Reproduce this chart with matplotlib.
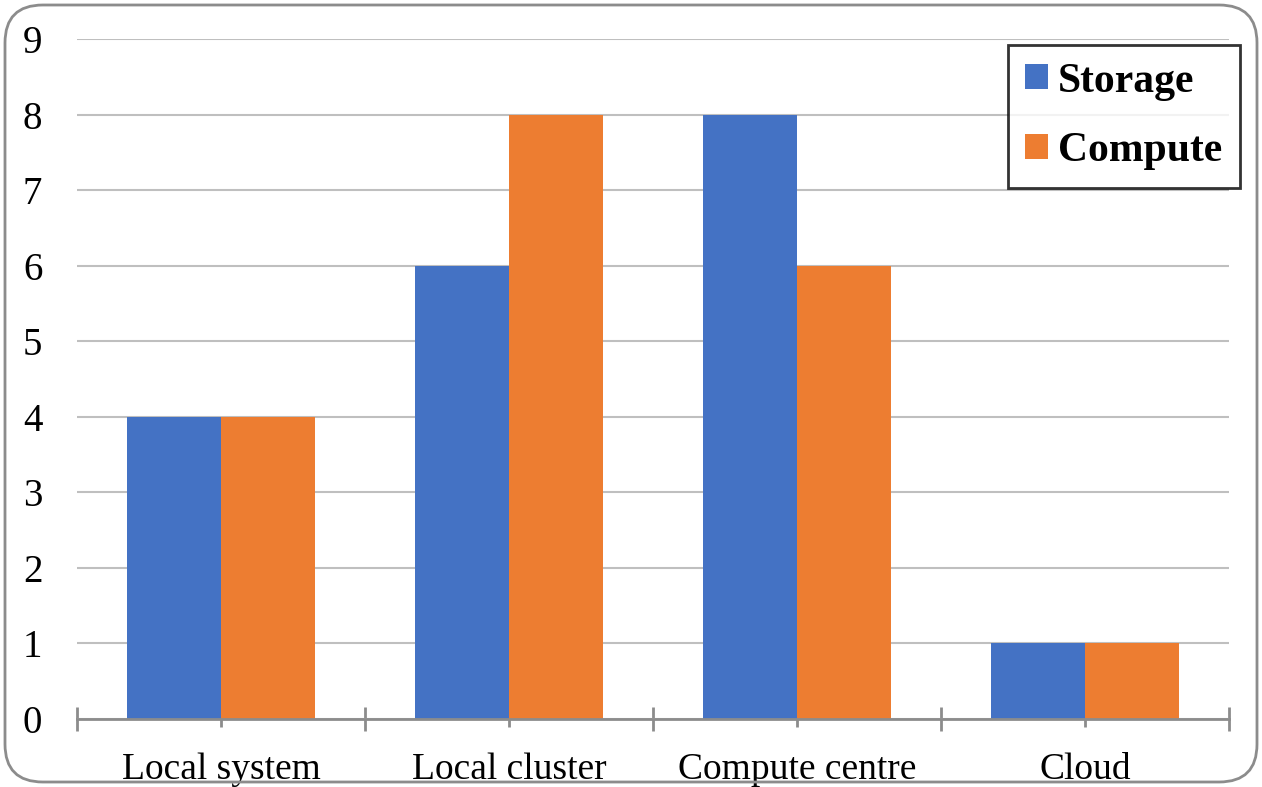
import matplotlib.pyplot as plt
import numpy as np
from matplotlib.patches import FancyBboxPatch

categories = ["Local system", "Local cluster", "Compute centre", "Cloud"]
storage = [4, 6, 8, 1]
compute = [4, 8, 6, 1]
series_names = ["Storage", "Compute"]
colors = ["#4472C4", "#ED7D31"]

W, H = 1262, 787
fig = plt.figure(figsize=(W / 100, H / 100), dpi=100)
ax = fig.add_axes([77 / W, 1 - 719 / H, (1229 - 77) / W, (719 - 39) / H])

x = np.arange(len(categories))
bw = 0.325
ax.bar(x - bw / 2, storage, bw, color=colors[0], label=series_names[0], zorder=2)
ax.bar(x + bw / 2, compute, bw, color=colors[1], label=series_names[1], zorder=2)

ax.set_xlim(-0.5, len(categories) - 0.5)
ax.set_ylim(0, 9)
ax.set_yticks(range(10))
ax.yaxis.grid(True, color="#BFBFBF", linewidth=1.5, zorder=0)
ax.set_axisbelow(True)

for s in ["left", "right", "top"]:
    ax.spines[s].set_visible(False)
ax.spines["bottom"].set_color("#8C8C8C")
ax.spines["bottom"].set_linewidth(2)
ax.spines["bottom"].set_zorder(3)

serif = ["Liberation Serif"]
ax.set_xticks(np.arange(-0.5, len(categories), 1.0))
ax.set_xticklabels([])
ax.tick_params(axis="x", which="major", direction="inout", length=17, width=2,
               color="#8C8C8C")
ax.set_xticks(x, minor=True)
ax.set_xticklabels(categories, minor=True, fontfamily=serif, fontsize=27)
ax.tick_params(axis="x", which="minor", direction="inout", length=12, width=2,
               color="#8C8C8C", pad=18)
for t in ax.xaxis.get_minor_ticks():
    t.tick1line.set_zorder(4)
ax.tick_params(axis="y", length=0, pad=25, labelsize=28)
for lab in ax.get_yticklabels():
    lab.set_fontfamily(serif)

leg = ax.legend(loc="upper right", bbox_to_anchor=((1240 - 77) / (1229 - 77), (719 - 45) / (719 - 39)),
                prop={"family": serif, "weight": "bold", "size": 30},
                frameon=True, fancybox=False, handlelength=0.55, handleheight=0.55,
                handletextpad=0.24, labelspacing=0.76, borderpad=0.42, borderaxespad=0)
leg.get_frame().set_edgecolor("black")
leg.get_frame().set_linewidth(2)

border = FancyBboxPatch((5 / W, 5 / H), (W - 10) / W, (H - 10) / H,
                        boxstyle="round,pad=0,rounding_size=0.03",
                        transform=fig.transFigure, fill=False,
                        edgecolor="#8C8C8C", linewidth=2, mutation_aspect=W / H)
fig.patches.append(border)

fig.savefig("out.png", dpi=100)
